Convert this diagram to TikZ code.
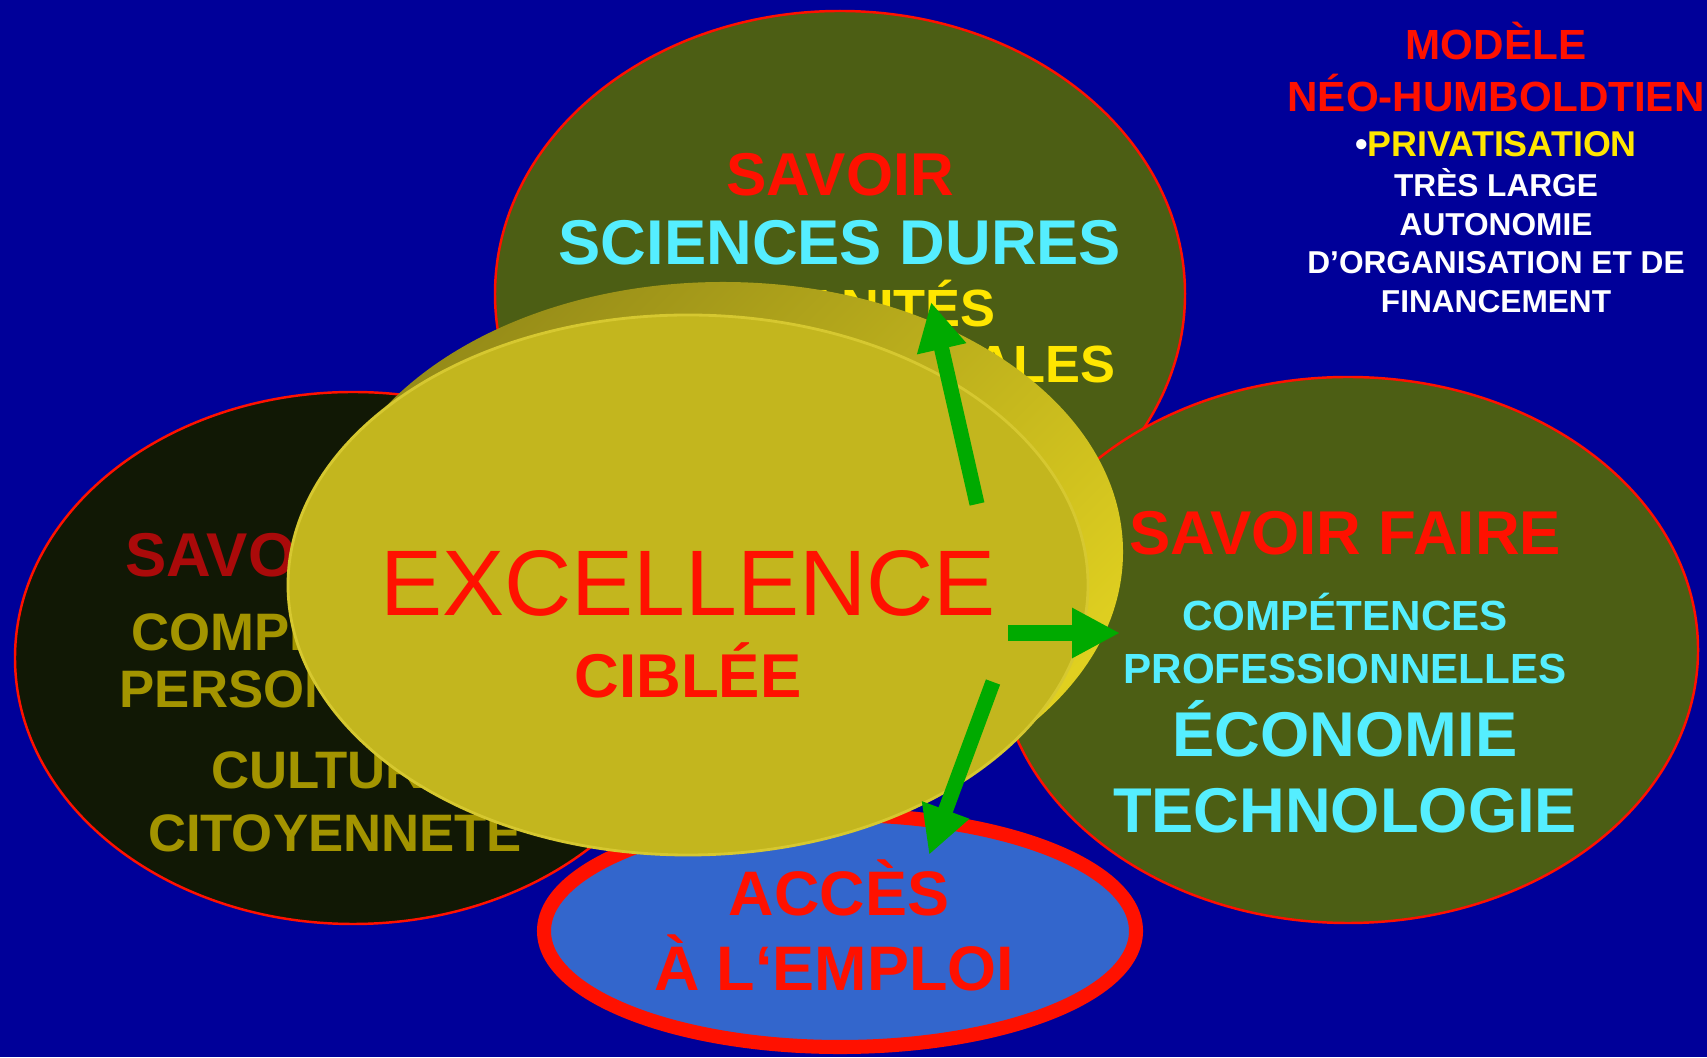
\documentclass[tikz,border=0pt]{standalone}
\usepackage{fontspec}
\setmainfont{Liberation Sans}
\usepackage{tikz}
\usetikzlibrary{shapes.geometric,arrows.meta}
\definecolor{bgblue}{RGB}{0,0,153}
\definecolor{savoirolive}{RGB}{76,94,20}
\definecolor{etredark}{RGB}{17,24,5}
\definecolor{edgered}{RGB}{255,17,0}
\definecolor{accesblue}{RGB}{51,102,204}
\definecolor{discgold}{RGB}{195,182,30}
\definecolor{discedge}{RGB}{214,200,48}
\definecolor{rimdark}{RGB}{150,140,24}
\definecolor{rimlight}{RGB}{224,208,32}
\definecolor{textred}{RGB}{255,17,0}
\definecolor{textcyan}{RGB}{85,238,255}
\definecolor{textyellow}{RGB}{255,230,0}
\definecolor{textolive}{RGB}{163,148,0}
\definecolor{textdarkred}{RGB}{170,10,10}
\definecolor{arrowgreen}{RGB}{0,170,0}

\begin{document}
\begin{tikzpicture}[
    blob/.style={ellipse,draw=edgered,line width=0.7pt,inner sep=0pt},
    lbl/.style={inner sep=0pt,anchor=base,font=\bfseries\fontsize{#1}{#1}\selectfont},
    push/.style={arrowgreen,line width=4.3pt,-{Triangle[length=0.48cm,width=0.47cm]}}]
    % Background
    \fill[bgblue] (0,0) rectangle (17.07,10.57);
    \useasboundingbox (0,0) rectangle (17.07,10.57);

    % Savoir (top)
    \node[blob,fill=savoirolive,minimum width=6.9cm,minimum height=5.66cm] (savoir) at (8.40,7.63) {};
    \node[lbl=17.2,textred] (savoirT) at (8.40,8.61) {SAVOIR};
    \node[lbl=18,textcyan] (dures) at (8.40,7.92) {SCIENCES DURES};
    \node[lbl=14.9,textyellow] (humanites) at (8.40,7.30) {HUMANITÉS};
    \node[lbl=14.9,textyellow] (sociales) at (8.40,6.74) {SCIENCES SOCIALES};

    % Savoir faire (right)
    \node[blob,fill=savoirolive,minimum width=7.0cm,minimum height=5.46cm] (faire) at (13.48,4.07) {};
    \node[lbl=17.6,textred] (faireT) at (13.45,5.02) {SAVOIR FAIRE};
    \node[lbl=12,textcyan] (compPro) at (13.45,4.26) {COMPÉTENCES};
    \node[lbl=12,textcyan] (profess) at (13.45,3.73) {PROFESSIONNELLES};
    \node[lbl=18,textcyan] (economie) at (13.45,3.00) {ÉCONOMIE};
    \node[lbl=18,textcyan] (techno) at (13.45,2.24) {TECHNOLOGIE};

    % Savoir etre (left)
    \node[blob,fill=etredark,minimum width=6.76cm,minimum height=5.32cm] (etre) at (3.53,3.99) {};
    \node[lbl=17.6,textdarkred] (etreT) at (3.33,4.80) {SAVOIR ÊTRE};
    \node[lbl=15,textolive] (compPers) at (3.35,4.06) {COMPÉTENCES};
    \node[lbl=15,textolive] (person) at (3.35,3.49) {PERSONNELLES};
    \node[lbl=15,textolive] (culture) at (3.35,2.68) {CULTURE};
    \node[lbl=15,textolive] (citoyen) at (3.35,2.05) {CITOYENNETÉ};

    % Acces a l'emploi (bottom)
    \node[ellipse,draw=edgered,line width=4pt,fill=accesblue,inner sep=0pt,
          minimum width=5.92cm,minimum height=2.32cm] (acces) at (8.40,1.26) {};

    % Excellence disc
    \node[ellipse,top color=rimdark,bottom color=rimlight,shading angle=45,inner sep=0pt,
          minimum width=8cm,minimum height=5.4cm] (rim) at (7.23,5.05) {};
    \node[ellipse,fill=discgold,draw=discedge,line width=0.8pt,inner sep=0pt,
          minimum width=8cm,minimum height=5.4cm] (disc) at (6.88,4.72) {};
    \node[inner sep=0pt,anchor=base,textred,font=\fontsize{26.5}{26.5}\selectfont] (excellence) at (6.88,4.41) {EXCELLENCE};
    \node[lbl=17.6,textred] (ciblee) at (6.88,3.59) {CIBLÉE};

    \node[lbl=17.9,textred] (accesT) at (8.39,1.42) {ACCÈS};
    \node[lbl=17.9,textred] (emploi) at (8.34,0.66) {À L‘EMPLOI};

    % Arrows
    \coordinate (upTail) at (9.77,5.53);
    \coordinate (upTip) at (9.31,7.55);
    \coordinate (rightTail) at (10.08,4.24);
    \coordinate (rightTip) at (11.20,4.24);
    \coordinate (downTail) at (9.93,3.75);
    \coordinate (downTip) at (9.29,2.02);
    \draw[push] (upTail) -- (upTip);
    \draw[push] (rightTail) -- (rightTip);
    \draw[push] (downTail) -- (downTip);

    % Modele
    \node[lbl=12,textred] (modele) at (14.96,9.97) {MODÈLE};
    \node[lbl=12,textred] (neo) at (14.96,9.45) {NÉO-HUMBOLDTIEN};
    \node[lbl=10.2,textyellow] (privat) at (14.96,9.00) {{\color{white}•}PRIVATISATION};
    \foreach \t/\y [count=\i] in {TRÈS LARGE/8.60, AUTONOMIE/8.21, D’ORGANISATION ET DE/7.83, FINANCEMENT/7.44}
        \node[lbl=9,white] (statut\i) at (14.96,\y) {\t};
\end{tikzpicture}
\end{document}
